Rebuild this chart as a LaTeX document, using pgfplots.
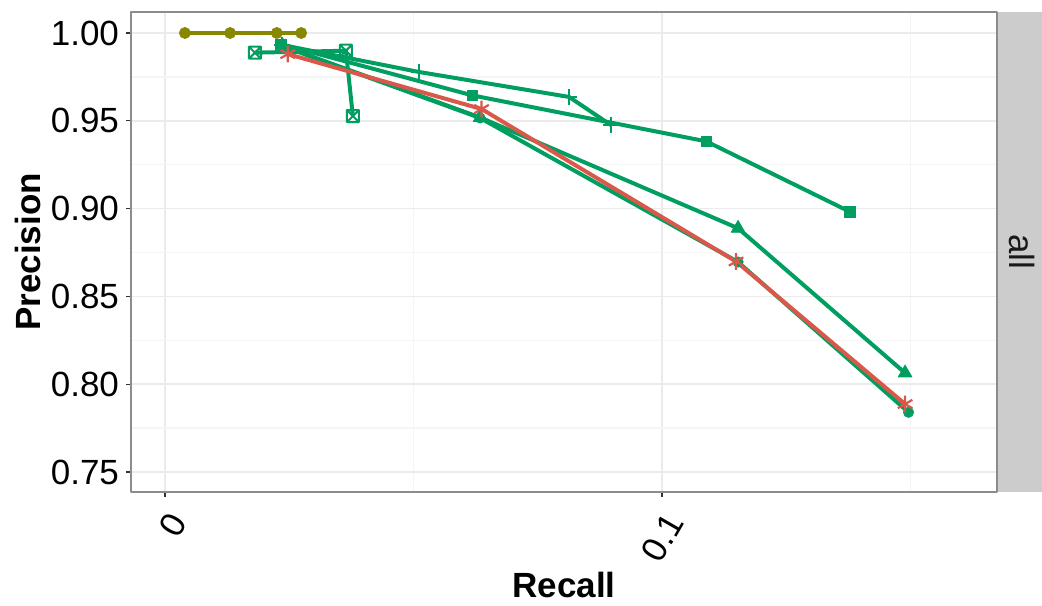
\documentclass[border=0pt]{standalone}
\usepackage{fontspec}
\setmainfont{Liberation Sans}
\usepackage{pgfplots}
\pgfplotsset{compat=1.18}
\definecolor{cgreen}{RGB}{0,158,96}
\definecolor{cred}{RGB}{218,88,74}
\definecolor{colive}{RGB}{136,136,0}
\definecolor{stripgray}{RGB}{204,204,204}
\definecolor{framegray}{RGB}{140,140,140}
\definecolor{majgrid}{RGB}{235,235,235}
\definecolor{mingrid}{RGB}{245,245,245}
\pgfdeclareplotmark{squarex}{%
  \pgfpathrectangle{\pgfqpoint{-\pgfplotmarksize}{-\pgfplotmarksize}}{\pgfqpoint{2\pgfplotmarksize}{2\pgfplotmarksize}}%
  \pgfpathmoveto{\pgfqpoint{-\pgfplotmarksize}{-\pgfplotmarksize}}\pgfpathlineto{\pgfqpoint{\pgfplotmarksize}{\pgfplotmarksize}}%
  \pgfpathmoveto{\pgfqpoint{-\pgfplotmarksize}{\pgfplotmarksize}}\pgfpathlineto{\pgfqpoint{\pgfplotmarksize}{-\pgfplotmarksize}}%
  \pgfusepathqstroke}
\begin{document}
\begin{tikzpicture}
\useasboundingbox (-65.5pt,-56.5pt) rectangle (455.5pt,246pt);
\begin{axis}[
  at={(0,0)}, anchor=south west,
  scale only axis, width=433pt, height=240pt,
  xmin=-0.00684, xmax=0.1674, ymin=0.73861, ymax=1.01196,
  xtick={0,0.1}, xticklabels={0,0.1},
  ytick={0.75,0.80,0.85,0.90,0.95,1.00},
  yticklabels={0.75,0.80,0.85,0.90,0.95,1.00},
  minor xtick={0.05,0.15},
  minor ytick={0.775,0.825,0.875,0.925,0.975},
  grid=both,
  major grid style={majgrid, line width=0.8pt},
  minor grid style={mingrid, line width=0.8pt},
  tick align=outside, tick pos=left,
  major tick length=2.5pt, minor tick length=0pt,
  tick style={black!80, line width=0.6pt},
  axis line style={framegray, line width=0.6pt},
  tick label style={font=\fontsize{17.5}{20}\selectfont, black},
  yticklabel style={anchor=east},
  xticklabel style={xshift=8pt, yshift=-6.5pt, rotate=60, anchor=east},
  every axis x label/.style={at={(axis description cs:0.5,-0.19375)}, anchor=center},
  every axis y label/.style={at={(axis description cs:-0.1189,0.5)}, rotate=90, anchor=center},
  label style={font=\fontsize{17.5}{20}\selectfont\bfseries},
  xlabel={Recall}, ylabel={Precision},
  line join=round,
]
\addplot[colive, line width=2pt, mark=*, mark size=2.8pt, mark options={line width=0.3pt}] coordinates {
  (0.0040,1.000) (0.0131,1.000) (0.0225,1.000) (0.0274,1.000)};
\addplot[cgreen, line width=2pt, mark=squarex, mark size=3pt, mark options={line width=1pt}] coordinates {
  (0.0181,0.9888) (0.0364,0.9899) (0.0378,0.9527)};
\addplot[cgreen, line width=2pt, mark=square*, mark size=2.6pt, mark options={line width=0.3pt}] coordinates {
  (0.0233,0.9937) (0.0618,0.9645) (0.1089,0.9383) (0.1378,0.8982)};
\addplot[cgreen, line width=2pt, mark=+, mark size=4pt, mark options={line width=1pt}] coordinates {
  (0.0235,0.9932) (0.0511,0.9778) (0.0813,0.9636) (0.0897,0.9476)};
\addplot[cgreen, line width=2pt, mark=triangle*, mark size=4pt, mark options={line width=0.3pt}] coordinates {
  (0.0237,0.9926) (0.0634,0.9519) (0.1153,0.8888) (0.1489,0.8064)};
\addplot[cgreen, line width=2pt, mark=*, mark size=2.6pt, mark options={line width=0.3pt}] coordinates {
  (0.0235,0.9926) (0.0634,0.9516) (0.1153,0.8696) (0.1496,0.7840)};
\addplot[cred, line width=2pt, mark=asterisk, mark size=4.2pt, mark options={line width=1.1pt}] coordinates {
  (0.0247,0.9880) (0.0637,0.9567) (0.1149,0.8699) (0.1489,0.7887)};
\end{axis}
\fill[stripgray] (433.3pt,0pt) rectangle (455.5pt,240pt);
\node[rotate=-90, font=\fontsize{17.5}{20}\selectfont, text=black!90] at (445.5pt,120pt) {all};
\end{tikzpicture}
\end{document}
